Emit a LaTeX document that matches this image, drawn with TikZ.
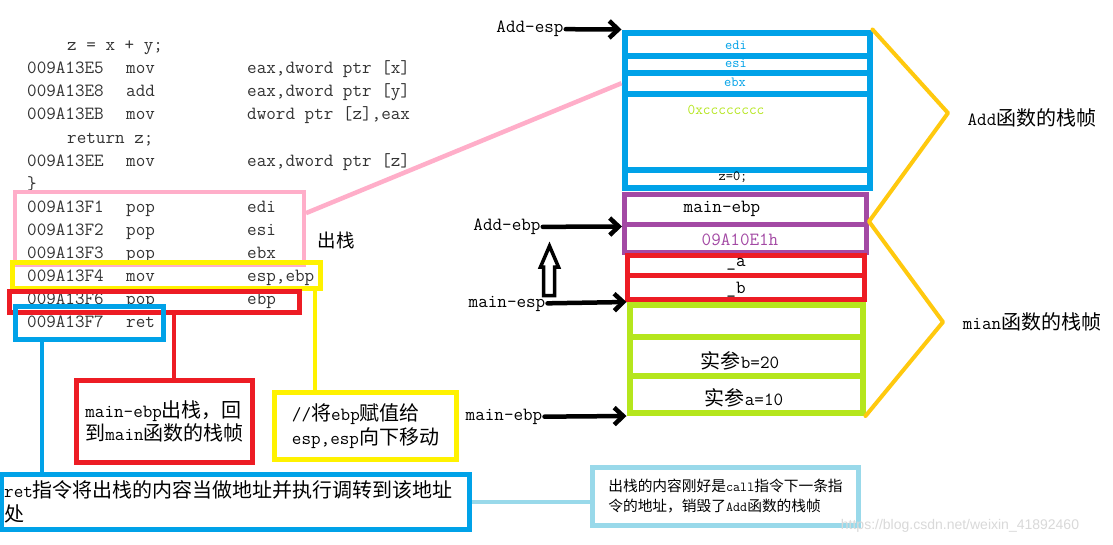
\documentclass[tikz,border=0pt]{standalone}
\usepackage{fontspec}
\usepackage{tikz}
\usetikzlibrary{arrows.meta,positioning}
\newfontfamily\cjk[Scale=1.075]{Noto Sans CJK SC}
\newfontfamily\markfam{Liberation Sans}
\newcommand{\zh}[1]{{\cjk #1}}
\newcommand{\codefont}{\ttfamily\fontsize{18.6}{23.5}\selectfont}
\newcommand{\smallcode}{\ttfamily\fontsize{14}{16}\selectfont}
\newcommand{\tipfont}{\ttfamily\fontsize{13.7}{20}\selectfont}
\newcommand{\ins}[3]{\makebox[99pt][l]{#1}\makebox[121pt][l]{#2}#3}
\definecolor{addblue}{HTML}{00A2E8}
\definecolor{frpurple}{HTML}{A349A4}
\definecolor{argred}{HTML}{ED1C24}
\definecolor{argreen}{HTML}{B5E61D}
\definecolor{hlyellow}{HTML}{FFF200}
\definecolor{braceorange}{HTML}{FFC90E}
\definecolor{hlpink}{HTML}{FFAEC9}
\definecolor{tipblue}{HTML}{99D9EA}
\tikzset{
 >={Straight Barb[length=9pt,width=17pt]},
 code/.style={anchor=base west,inner sep=0pt,font=\codefont,text=black!80},
 cell/.style={draw=#1,line width=5pt,inner sep=0pt},
 addcell/.style={cell=addblue,line width=6pt,minimum width=245pt},
 maincell/.style={cell=frpurple,minimum width=242pt},
 argcell/.style={cell=argred,minimum width=237.5pt},
 parcell/.style={cell=argreen,line width=6pt,minimum width=233pt},
 val/.style={inner sep=0pt,font=\codefont},
 hl/.style={draw=#1,line width=5pt,inner sep=0pt},
 note/.style={draw=#1,line width=5pt,align=left,font=\codefont,inner sep=0pt},
 ptr/.style={->,line width=4.5pt,line cap=round},
 tag/.style={inner sep=2pt,font=\codefont}
}
\begin{document}
\begin{tikzpicture}[x=1pt,y=-1pt]
\useasboundingbox[fill=white] (0,0) rectangle (1113,544);
% disassembly
\path (67,50.6) node[code,name=c0] {z = x + y;};
\path (27,73.7) node[code,name=c1] {\ins{009A13E5}{mov}{eax,dword ptr [x]}};
\path (27,96.8) node[code,name=c2] {\ins{009A13E8}{add}{eax,dword ptr [y]}};
\path (27,119.9) node[code,name=c3] {\ins{009A13EB}{mov}{dword ptr [z],eax}};
\path (67,143) node[code,name=c4] {return z;};
\path (27,166.1) node[code,name=c5] {\ins{009A13EE}{mov}{eax,dword ptr [z]}};
\path (27,189.2) node[code,name=c6] {\}};
\path (27,212.3) node[code,name=c7] {\ins{009A13F1}{pop}{edi}};
\path (27,235.4) node[code,name=c8] {\ins{009A13F2}{pop}{esi}};
\path (27,258.5) node[code,name=c9] {\ins{009A13F3}{pop}{ebx}};
\path (27,281.6) node[code,name=c10] {\ins{009A13F4}{mov}{esp,ebp}};
\path (27,304.7) node[code,name=c11] {\ins{009A13F6}{pop}{ebp}};
\path (27,327.8) node[code,name=c12] {\ins{009A13F7}{ret}{}};

\path (159.5,228.5) node[hl=hlpink,line width=4pt,minimum width=289pt,minimum height=73pt,name=pophl] {};
\path (166.5,275.25) node[hl=hlyellow,minimum width=308pt,minimum height=25.5pt,name=movhl] {};
\path (154.5,302) node[hl=argred,minimum width=290pt,minimum height=21pt,name=ebphl] {};
\path (89.5,323) node[hl=addblue,minimum width=148pt,minimum height=33pt,name=rethl] {};
\path (336,240) node[tag,font=\fontsize{17.2}{20}\selectfont,name=poplbl] {\zh{出栈}};

% stack
\path (747,44) node[addcell,minimum height=23pt,name=edi] {};
\path (747,64) node[addcell,minimum height=17pt,name=esi] {};
\path (747,83.25) node[addcell,minimum height=21.5pt,name=ebx] {};
\path (747,131.75) node[addcell,minimum height=75.5pt,name=locals] {};
\path (747,178.5) node[addcell,minimum height=18pt,name=zcell] {};
\path (745.5,209.25) node[maincell,minimum height=29.5pt,name=oldebp] {};
\path (745.5,238) node[maincell,minimum height=28pt,name=retaddr] {};
\path (745.75,265.5) node[argcell,minimum height=20pt,name=acell] {};
\path (745.75,287.5) node[argcell,minimum height=24pt,name=bcell] {};
\path (746,320.75) node[parcell,minimum height=31.5pt,name=pfree] {};
\path (746,356.25) node[parcell,minimum height=39.5pt,name=parb] {};
\path (746,394.5) node[parcell,minimum height=37pt,name=para] {};

\path (736,45) node[val,font=\smallcode,text=addblue,name=tedi] {edi};
\path (736,63) node[val,font=\smallcode,text=addblue,name=tesi] {esi};
\path (735,82) node[val,font=\smallcode,text=addblue,name=tebx] {ebx};
\path (726,110) node[val,font=\ttfamily\fontsize{14.9}{16}\selectfont,text=argreen,name=tcc] {0xcccccccc};
\path (733,177) node[val,font=\smallcode,name=tz] {z=0;};
\path (722,209) node[val,name=toldebp] {main-ebp};
\path (740,240) node[val,text=frpurple,name=tret] {09A10E1h};
\path (736,264) node[val,name=ta] {\_a};
\path (736,290) node[val,name=tb] {\_b};
\path (740,361) node[val,name=tparb] {\zh{实参}b=20};
\path (744,398) node[val,name=tpara] {\zh{实参}a=10};

% pointers
\path (530,29) node[tag,name=aesp] {Add-esp};
\path (507,227) node[tag,name=aebp] {Add-ebp};
\path (507,304) node[tag,name=mesp] {main-esp};
\path (504,417) node[tag,name=mebp] {main-ebp};
\path[ptr] (aesp) edge (edi.north west);
\path[ptr] (aebp) edge (oldebp.south west);
\path[ptr] (mesp) edge (pfree.north west);
\path[ptr] (mebp) edge (para.south west);
\draw[line width=3.5pt,line join=miter] (543.5,295.5) -- (543.5,267) -- (540.5,267) -- (549.5,246) -- (558.5,267) -- (554.5,267) -- (554.5,295.5) -- cycle;

% frames
\coordinate (addtip) at (948,113);
\coordinate (maintip) at (943,322);
\draw[braceorange,line width=4pt,line cap=round,line join=round] (edi.north east) -- (addtip) -- (retaddr.north east) -- (maintip) -- (para.south east);
\path (1032,118) node[tag,name=addframe] {Add\zh{函数的栈帧}};
\path (1032,322) node[tag,name=mainframe] {mian\zh{函数的栈帧}};

% notes
\path (164.5,421.5) node[note=argred,minimum width=176pt,minimum height=82pt,name=ebpnote] {main-ebp\zh{出栈，回}\\\zh{到}main\zh{函数的栈帧}};
\path (365.5,426) node[note=hlyellow,minimum width=182pt,minimum height=67pt,name=movnote] {//\zh{将}ebp\zh{赋值给}\\esp,esp\zh{向下移动}};
\path (235.25,502) node[note=addblue,minimum width=468.5pt,minimum height=55pt,text width=462pt,inner xsep=3.25pt,name=retnote] {ret\zh{指令将出栈的内容当做地址并执行调转到该地址}\\\zh{处}};
\path (725.5,496.5) node[note=tipblue,font=\tipfont,minimum width=266pt,minimum height=58pt,name=callnote] {\zh{出栈的内容刚好是}call\zh{指令下一条指}\\\zh{令的地址，销毁了}Add\zh{函数的栈帧}};

\coordinate (rx) at (174,0);
\coordinate (yx) at (315,0);
\coordinate (bx) at (42,0);
\path[draw=hlpink,line width=4.5pt] (pophl.6) -- (ebx.west);
\path[draw=argred,line width=4pt] (ebphl.south -| rx) -- (ebpnote.north -| rx);
\path[draw=hlyellow,line width=4pt] (movhl.south -| yx) -- (movnote.north -| yx);
\path[draw=addblue,line width=4pt] (rethl.south -| bx) -- (retnote.north -| bx);
\path[draw=tipblue,line width=4.5pt] (retnote.east) -- (retnote.east -| callnote.west);

\path (960,526) node[inner sep=0pt,font=\markfam\fontsize{14}{16}\selectfont,text=black!15,name=mark] {https://blog.csdn.net/weixin\_41892460};
\end{tikzpicture}
\end{document}
